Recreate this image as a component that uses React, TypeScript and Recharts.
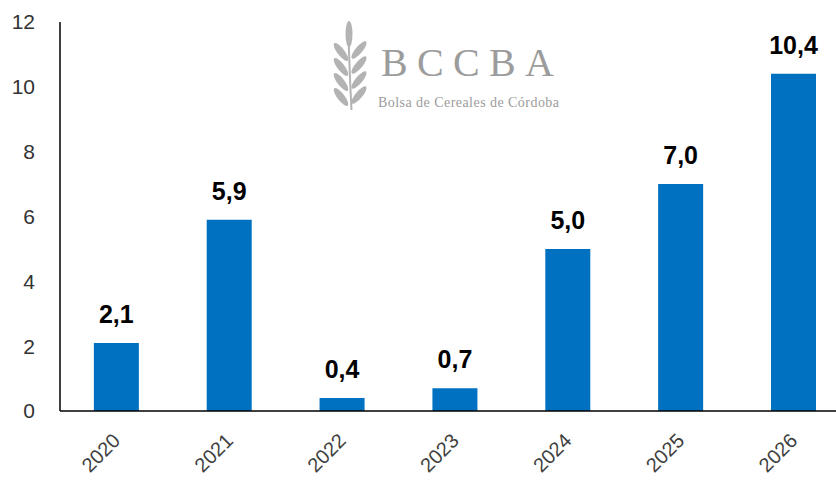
import { Bar, BarChart, LabelList, XAxis, YAxis } from "recharts";

const years = ["2020", "2021", "2022", "2023", "2024", "2025", "2026"];
const values = [2.1, 5.9, 0.4, 0.7, 5.0, 7.0, 10.4];
const yTicks = [0, 2, 4, 6, 8, 10, 12];

const data = years.map((year, i) => ({ year, value: values[i] }));

const FONT = "'Liberation Sans', Arial, sans-serif";

function YearTick({ x, y, payload }: any) {
  return (
    <g transform={`translate(${x + 5},${y + 23})`}>
      <text
        textAnchor="end"
        transform="rotate(-45)"
        fontSize={20}
        fontFamily={FONT}
        fill="#404040"
      >
        {payload.value}
      </text>
    </g>
  );
}

function Logo() {
  const leaves = [0, 1, 2, 3];
  return (
    <svg
      width={836}
      height={480}
      style={{ position: "absolute", left: 0, top: 0, pointerEvents: "none" }}
    >
      <g fill="#b3b3b3">
        <path d="M348.5 36 Q349.5 70 351.5 110" stroke="#b3b3b3" strokeWidth={2} fill="none" />
        <ellipse cx={349} cy={34} rx={3.5} ry={13} />
        {leaves.map((i) => (
          <ellipse
            key={"l" + i}
            cx={341}
            cy={52 + i * 15}
            rx={3.5}
            ry={11}
            transform={`rotate(-38 341 ${52 + i * 15})`}
          />
        ))}
        {leaves.map((i) => (
          <ellipse
            key={"r" + i}
            cx={359}
            cy={50 + i * 15}
            rx={3.5}
            ry={11}
            transform={`rotate(40 359 ${50 + i * 15})`}
          />
        ))}
      </g>
      <text
        x={381}
        y={76}
        fontSize={40}
        fontFamily="'Liberation Serif', 'DejaVu Serif', serif"
        fill="#9c9c9c"
        textLength={173}
        lengthAdjust="spacing"
      >
        BCCBA
      </text>
      <text
        x={378}
        y={107}
        fontSize={14}
        fontFamily="'Liberation Serif', 'DejaVu Serif', serif"
        fill="#9c9c9c"
        textLength={181}
        lengthAdjust="spacing"
      >
        Bolsa de Cereales de Córdoba
      </text>
    </svg>
  );
}

export default function App() {
  return (
    <div
      style={{
        position: "absolute",
        left: 0,
        top: 0,
        width: 836,
        height: 480,
        overflow: "hidden",
        background: "#ffffff",
      }}
    >
      <Logo />
      <BarChart
        width={850}
        height={480}
        data={data}
        margin={{ top: 22, right: 0, bottom: 9, left: 0 }}
        barCategoryGap="30%"
      >
        <XAxis
          dataKey="year"
          axisLine={{ stroke: "#000000", strokeWidth: 1.5 }}
          tickLine={false}
          height={60}
          interval={0}
          tick={<YearTick />}
        />
        <YAxis
          domain={[0, 12]}
          ticks={yTicks}
          width={60}
          axisLine={{ stroke: "#000000", strokeWidth: 1.5 }}
          tickLine={false}
          tickSize={0}
          tickMargin={25}
          tick={{ fontSize: 21, fontFamily: FONT, fill: "#333333" }}
        />
        <Bar dataKey="value" fill="#0070C0" isAnimationActive={false}>
          <LabelList
            dataKey="value"
            position="top"
            offset={20}
            formatter={(v: any) => Number(v).toFixed(1).replace(".", ",")}
            style={{
              fontSize: 25,
              fontWeight: "bold",
              fontFamily: FONT,
              fill: "#000000",
            }}
          />
        </Bar>
      </BarChart>
    </div>
  );
}
